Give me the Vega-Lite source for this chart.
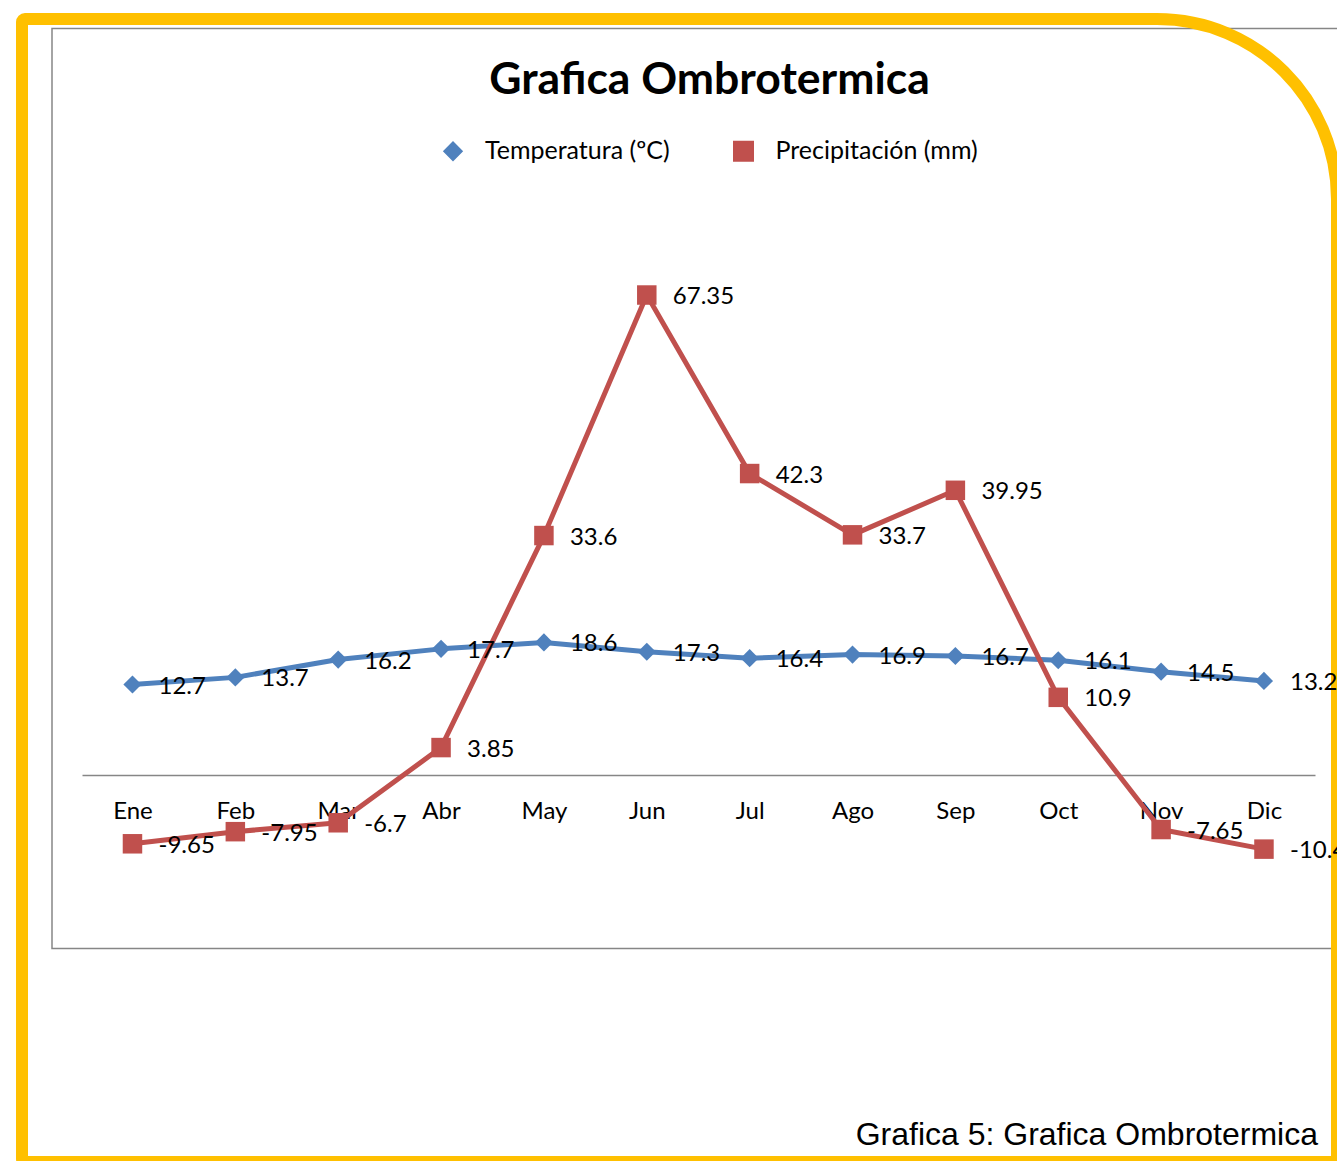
{
  "$schema": "https://vega.github.io/schema/vega-lite/v6.json",
  "width": 1315,
  "height": 1143,
  "autosize": "none",
  "padding": {"left": 22, "top": 19, "right": 0, "bottom": 0},
  "background": "white",
  "config": {"view": {"stroke": null}},
  "title": {
    "text": "Grafica 5: Grafica Ombrotermica",
    "orient": "bottom",
    "anchor": "end",
    "frame": "group",
    "font": "Liberation Sans",
    "fontSize": 32,
    "fontWeight": "normal",
    "color": "black",
    "offset": -48,
    "dx": -19
  },
  "data": {
    "values": [
      {"mes": "Ene", "serie": "Temperatura (ºC)", "valor": 12.7},
      {"mes": "Feb", "serie": "Temperatura (ºC)", "valor": 13.7},
      {"mes": "Mar", "serie": "Temperatura (ºC)", "valor": 16.2},
      {"mes": "Abr", "serie": "Temperatura (ºC)", "valor": 17.7},
      {"mes": "May", "serie": "Temperatura (ºC)", "valor": 18.6},
      {"mes": "Jun", "serie": "Temperatura (ºC)", "valor": 17.3},
      {"mes": "Jul", "serie": "Temperatura (ºC)", "valor": 16.4},
      {"mes": "Ago", "serie": "Temperatura (ºC)", "valor": 16.9},
      {"mes": "Sep", "serie": "Temperatura (ºC)", "valor": 16.7},
      {"mes": "Oct", "serie": "Temperatura (ºC)", "valor": 16.1},
      {"mes": "Nov", "serie": "Temperatura (ºC)", "valor": 14.5},
      {"mes": "Dic", "serie": "Temperatura (ºC)", "valor": 13.2},
      {"mes": "Ene", "serie": "Precipitación (mm)", "valor": -9.65},
      {"mes": "Feb", "serie": "Precipitación (mm)", "valor": -7.95},
      {"mes": "Mar", "serie": "Precipitación (mm)", "valor": -6.7},
      {"mes": "Abr", "serie": "Precipitación (mm)", "valor": 3.85},
      {"mes": "May", "serie": "Precipitación (mm)", "valor": 33.6},
      {"mes": "Jun", "serie": "Precipitación (mm)", "valor": 67.35},
      {"mes": "Jul", "serie": "Precipitación (mm)", "valor": 42.3},
      {"mes": "Ago", "serie": "Precipitación (mm)", "valor": 33.7},
      {"mes": "Sep", "serie": "Precipitación (mm)", "valor": 39.95},
      {"mes": "Oct", "serie": "Precipitación (mm)", "valor": 10.9},
      {"mes": "Nov", "serie": "Precipitación (mm)", "valor": -7.65},
      {"mes": "Dic", "serie": "Precipitación (mm)", "valor": -10.4}
    ]
  },
  "layer": [
    {
      "data": {"values": [{}]},
      "mark": {"type": "rect", "fill": null, "stroke": "#868686", "strokeWidth": 1.5, "x2Offset": 40},
      "encoding": {
        "x": {"value": 30},
        "x2": {"value": "width"},
        "y": {"value": 9.5},
        "y2": {"value": 929.5}
      }
    },
    {
      "data": {"values": [{}]},
      "mark": {"type": "rect", "fill": null, "stroke": "#FFC000", "strokeWidth": 12, "cornerRadiusTopRight": 180, "cornerRadiusTopLeft": 3, "cornerRadiusBottomLeft": 3},
      "encoding": {
        "x": {"value": 0},
        "x2": {"value": "width"},
        "y": {"value": 0},
        "y2": {"value": "height"}
      }
    },
    {
      "mark": {"type": "line", "strokeWidth": 5, "strokeJoin": "round", "strokeCap": "round"},
      "encoding": {
        "x": {"field": "mes", "type": "ordinal", "sort": null,
              "scale": {"type": "point", "domain": ["Ene","Feb","Mar","Abr","May","Jun","Jul","Ago","Sep","Oct","Nov","Dic"], "padding": 0.892, "align": 0.602},
              "axis": {"title": null, "domain": true, "domainColor": "#868686", "domainWidth": 1.5, "domainDash": [0, 60, 1233, 2000], "ticks": false, "grid": false, "labelAngle": 0, "labelFont": "Lato", "labelFontSize": 24, "labelColor": "black", "labelPadding": 24, "offset": -387}},
        "y": {"field": "valor", "type": "quantitative", "scale": {"domain": [-54.3, 106.08], "nice": false, "zero": false}, "axis": null},
        "color": {
          "field": "serie", "type": "nominal",
          "scale": {"domain": ["Temperatura (ºC)", "Precipitación (mm)"], "range": ["#4F81BD", "#C0504D"]},
          "legend": {
            "orient": "none", "legendX": 418.5, "legendY": 40, "direction": "horizontal",
            "title": "Grafica Ombrotermica", "titleFont": "Lato", "titleFontSize": 44.5, "titleFontWeight": "bold", "titleColor": "black",
            "titleAnchor": "middle", "titleOrient": "top", "titlePadding": 35, "titleLimit": 0,
            "labelFont": "Lato", "labelFontSize": 25, "labelColor": "black", "labelOffset": 19.5, "labelLimit": 0,
            "symbolOpacity": 1, "columnPadding": 59.5, "padding": 0
          }
        }
      }
    },
    {
      "mark": {"type": "point", "filled": true, "opacity": 1},
      "encoding": {
        "x": {"field": "mes", "type": "ordinal", "sort": null},
        "y": {"field": "valor", "type": "quantitative"},
        "color": {"field": "serie", "type": "nominal"},
        "shape": {"field": "serie", "type": "nominal", "scale": {"domain": ["Temperatura (ºC)", "Precipitación (mm)"], "range": ["diamond", "square"]}, "legend": null},
        "size": {"field": "serie", "type": "nominal", "scale": {"domain": ["Temperatura (ºC)", "Precipitación (mm)"], "range": [330, 380]}, "legend": null}
      }
    },
    {
      "mark": {"type": "text", "align": "left", "baseline": "middle", "dx": 26, "dy": 2, "font": "Lato", "fontSize": 24, "color": "black"},
      "encoding": {
        "x": {"field": "mes", "type": "ordinal", "sort": null},
        "y": {"field": "valor", "type": "quantitative"},
        "text": {"field": "valor", "type": "nominal"}
      }
    }
  ]
}
